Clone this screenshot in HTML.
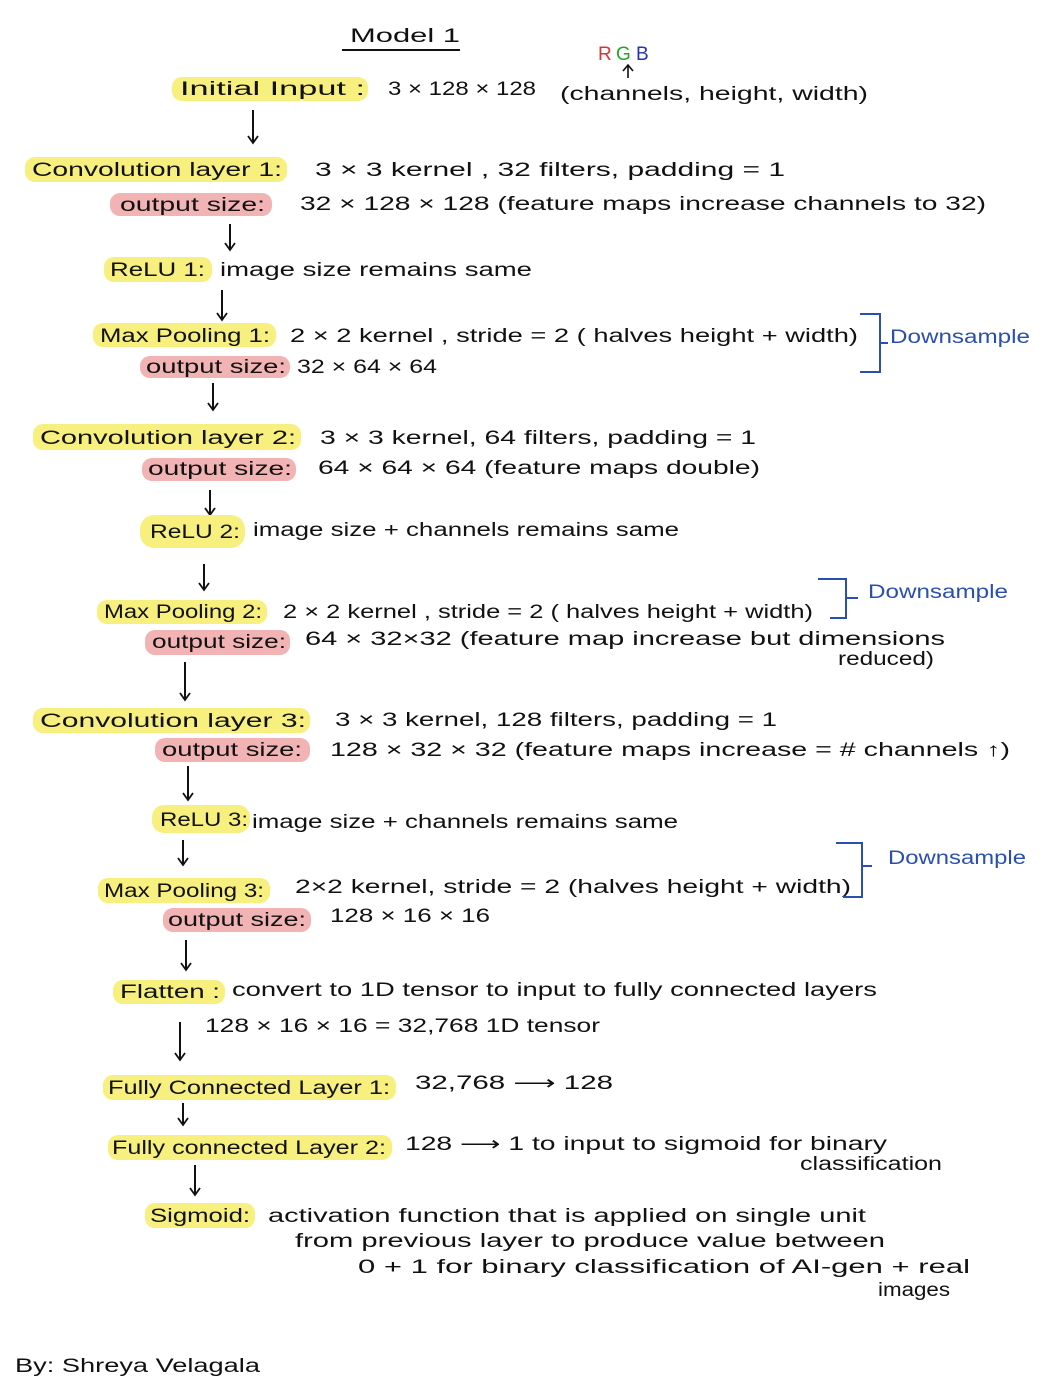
<!DOCTYPE html>
<html><head><meta charset="utf-8"><style>
html,body{margin:0;padding:0;background:#fff;}
svg{display:block;font-family:"Liberation Sans",sans-serif;}
text{font-size:19px;fill:#111;}
.y{fill:#f7f07e;}
.p{fill:#f1b3b3;}
.b{fill:#2a4fb0;}
.ar{stroke:#111;stroke-width:2;fill:none;}
.br{stroke:#2a4fb0;stroke-width:2;fill:none;}
</style></head><body>
<svg width="1053" height="1388" viewBox="0 0 1053 1388">
<defs><marker id="ah" markerWidth="12" markerHeight="12" refX="10" refY="6" orient="auto" markerUnits="userSpaceOnUse"><path d="M3,1 L10,6 L3,11" stroke="#111" stroke-width="1.8" fill="none"/></marker></defs>

<g>
<text x="350" y="42" textLength="110" lengthAdjust="spacingAndGlyphs">Model 1</text>
<line x1="342" y1="50" x2="460" y2="50" stroke="#111" stroke-width="2"/>
</g>
<g>
<text x="598" y="60" style="fill:#d33">R</text><text x="616" y="60" style="fill:#2a2">G</text><text x="636" y="60" style="fill:#23b">B</text>
<path d="M628,78 L628,66 M623,71 L628,65 L633,71" stroke="#111" stroke-width="1.6" fill="none"/>
</g>

<!-- Initial input -->
<rect class="y" x="172" y="77" width="196" height="24" rx="10"/>
<text x="180" y="95" textLength="185" lengthAdjust="spacingAndGlyphs">Initial Input :</text>
<text x="388" y="95" textLength="148" lengthAdjust="spacingAndGlyphs">3 × 128 × 128</text>
<text x="560" y="100" textLength="308" lengthAdjust="spacingAndGlyphs">(channels, height, width)</text>
<line class="ar" x1="253" y1="110" x2="253" y2="143" marker-end="url(#ah)"/>

<!-- Conv 1 -->
<rect class="y" x="25" y="157" width="262" height="25" rx="10"/>
<text x="32" y="176" textLength="250" lengthAdjust="spacingAndGlyphs">Convolution layer 1:</text>
<text x="315" y="176" textLength="470" lengthAdjust="spacingAndGlyphs">3 × 3 kernel , 32 filters, padding = 1</text>
<rect class="p" x="110" y="193" width="162" height="23" rx="10"/>
<text x="120" y="211" textLength="145" lengthAdjust="spacingAndGlyphs">output size:</text>
<text x="300" y="210" textLength="686" lengthAdjust="spacingAndGlyphs">32 × 128 × 128  (feature maps increase channels to 32)</text>
<line class="ar" x1="230" y1="224" x2="230" y2="250" marker-end="url(#ah)"/>

<!-- ReLU 1 -->
<rect class="y" x="104" y="257" width="108" height="25" rx="10"/>
<text x="110" y="276" textLength="95" lengthAdjust="spacingAndGlyphs">ReLU 1:</text>
<text x="220" y="276" textLength="312" lengthAdjust="spacingAndGlyphs">image size remains same</text>
<line class="ar" x1="222" y1="290" x2="222" y2="320" marker-end="url(#ah)"/>

<!-- Max pool 1 -->
<rect class="y" x="93" y="323" width="183" height="24" rx="10"/>
<text x="100" y="342" textLength="170" lengthAdjust="spacingAndGlyphs">Max Pooling 1:</text>
<text x="290" y="342" textLength="568" lengthAdjust="spacingAndGlyphs">2 × 2 kernel , stride = 2 ( halves height + width)</text>
<path class="br" d="M860,314 L880,314 L880,372 L860,372 M880,343 L888,343"/>
<text class="b" x="890" y="343" textLength="140" lengthAdjust="spacingAndGlyphs">Downsample</text>
<rect class="p" x="140" y="356" width="150" height="22" rx="10"/>
<text x="146" y="373" textLength="140" lengthAdjust="spacingAndGlyphs">output size:</text>
<text x="297" y="373" textLength="140" lengthAdjust="spacingAndGlyphs">32 × 64 × 64</text>
<line class="ar" x1="213" y1="383" x2="213" y2="410" marker-end="url(#ah)"/>

<!-- Conv 2 -->
<rect class="y" x="33" y="424" width="268" height="26" rx="10"/>
<text x="40" y="444" textLength="256" lengthAdjust="spacingAndGlyphs">Convolution layer 2:</text>
<text x="320" y="444" textLength="436" lengthAdjust="spacingAndGlyphs">3 × 3 kernel, 64 filters, padding = 1</text>
<rect class="p" x="142" y="458" width="154" height="23" rx="10"/>
<text x="148" y="475" textLength="144" lengthAdjust="spacingAndGlyphs">output size:</text>
<text x="318" y="474" textLength="442" lengthAdjust="spacingAndGlyphs">64 × 64 × 64  (feature maps double)</text>
<line class="ar" x1="210" y1="490" x2="210" y2="515" marker-end="url(#ah)"/>

<!-- ReLU 2 -->
<rect class="y" x="140" y="515" width="105" height="33" rx="14"/>
<text x="150" y="538" textLength="90" lengthAdjust="spacingAndGlyphs">ReLU 2:</text>
<text x="253" y="536" textLength="426" lengthAdjust="spacingAndGlyphs">image size + channels remains same</text>
<line class="ar" x1="204" y1="564" x2="204" y2="590" marker-end="url(#ah)"/>

<!-- Max pool 2 -->
<rect class="y" x="97" y="600" width="170" height="24" rx="10"/>
<text x="104" y="618" textLength="158" lengthAdjust="spacingAndGlyphs">Max Pooling 2:</text>
<text x="283" y="618" textLength="530" lengthAdjust="spacingAndGlyphs">2 × 2 kernel , stride = 2 ( halves height + width)</text>
<path class="br" d="M818,579 L846,579 L846,618 L830,618 M846,598 L858,598"/>
<text class="b" x="868" y="598" textLength="140" lengthAdjust="spacingAndGlyphs">Downsample</text>
<rect class="p" x="145" y="630" width="145" height="25" rx="10"/>
<text x="152" y="648" textLength="134" lengthAdjust="spacingAndGlyphs">output size:</text>
<text x="305" y="645" textLength="640" lengthAdjust="spacingAndGlyphs">64 × 32×32  (feature map increase but dimensions</text>
<text x="838" y="665" textLength="96" lengthAdjust="spacingAndGlyphs">reduced)</text>
<line class="ar" x1="185" y1="662" x2="185" y2="700" marker-end="url(#ah)"/>

<!-- Conv 3 -->
<rect class="y" x="33" y="708" width="277" height="25" rx="10"/>
<text x="40" y="727" textLength="266" lengthAdjust="spacingAndGlyphs">Convolution layer 3:</text>
<text x="335" y="726" textLength="442" lengthAdjust="spacingAndGlyphs">3 × 3 kernel, 128 filters, padding = 1</text>
<rect class="p" x="155" y="738" width="155" height="24" rx="10"/>
<text x="162" y="756" textLength="140" lengthAdjust="spacingAndGlyphs">output size:</text>
<text x="330" y="756" textLength="680" lengthAdjust="spacingAndGlyphs">128 × 32 × 32  (feature maps increase = # channels ↑)</text>
<line class="ar" x1="188" y1="766" x2="188" y2="800" marker-end="url(#ah)"/>

<!-- ReLU 3 -->
<rect class="y" x="152" y="805" width="98" height="28" rx="12"/>
<text x="160" y="826" textLength="88" lengthAdjust="spacingAndGlyphs">ReLU 3:</text>
<text x="252" y="828" textLength="426" lengthAdjust="spacingAndGlyphs">image size + channels remains same</text>
<line class="ar" x1="183" y1="840" x2="183" y2="865" marker-end="url(#ah)"/>

<!-- Max pool 3 -->
<rect class="y" x="98" y="878" width="172" height="25" rx="10"/>
<text x="104" y="897" textLength="160" lengthAdjust="spacingAndGlyphs">Max Pooling 3:</text>
<text x="295" y="893" textLength="556" lengthAdjust="spacingAndGlyphs">2×2 kernel, stride = 2  (halves height + width)</text>
<path class="br" d="M836,843 L862,843 L862,897 L843,897 M862,866 L872,866"/>
<text class="b" x="888" y="864" textLength="138" lengthAdjust="spacingAndGlyphs">Downsample</text>
<rect class="p" x="163" y="908" width="148" height="24" rx="10"/>
<text x="168" y="926" textLength="138" lengthAdjust="spacingAndGlyphs">output size:</text>
<text x="330" y="922" textLength="160" lengthAdjust="spacingAndGlyphs">128 × 16 × 16</text>
<line class="ar" x1="186" y1="940" x2="186" y2="970" marker-end="url(#ah)"/>

<!-- Flatten -->
<rect class="y" x="113" y="980" width="112" height="24" rx="10"/>
<text x="120" y="998" textLength="100" lengthAdjust="spacingAndGlyphs">Flatten :</text>
<text x="232" y="996" textLength="645" lengthAdjust="spacingAndGlyphs">convert to 1D tensor to input to fully connected layers</text>
<text x="205" y="1032" textLength="395" lengthAdjust="spacingAndGlyphs">128 × 16 × 16 = 32,768  1D tensor</text>
<line class="ar" x1="180" y1="1022" x2="180" y2="1060" marker-end="url(#ah)"/>

<!-- FC1 -->
<rect class="y" x="103" y="1075" width="293" height="25" rx="10"/>
<text x="108" y="1094" textLength="282" lengthAdjust="spacingAndGlyphs">Fully Connected Layer 1:</text>
<text x="415" y="1089" textLength="198" lengthAdjust="spacingAndGlyphs">32,768  ⟶  128</text>
<line class="ar" x1="183" y1="1103" x2="183" y2="1125" marker-end="url(#ah)"/>

<!-- FC2 -->
<rect class="y" x="108" y="1135" width="284" height="25" rx="10"/>
<text x="112" y="1154" textLength="274" lengthAdjust="spacingAndGlyphs">Fully connected Layer 2:</text>
<text x="405" y="1150" textLength="482" lengthAdjust="spacingAndGlyphs">128 ⟶  1 to input to sigmoid for binary</text>
<text x="800" y="1170" textLength="142" lengthAdjust="spacingAndGlyphs">classification</text>
<line class="ar" x1="195" y1="1165" x2="195" y2="1195" marker-end="url(#ah)"/>

<!-- Sigmoid -->
<rect class="y" x="145" y="1203" width="110" height="25" rx="10"/>
<text x="150" y="1222" textLength="100" lengthAdjust="spacingAndGlyphs">Sigmoid:</text>
<text x="268" y="1222" textLength="598" lengthAdjust="spacingAndGlyphs">activation function that is applied on single unit</text>
<text x="295" y="1247" textLength="590" lengthAdjust="spacingAndGlyphs">from previous layer to produce value between</text>
<text x="358" y="1273" textLength="612" lengthAdjust="spacingAndGlyphs">0 + 1 for binary classification of AI-gen + real</text>
<text x="878" y="1296" textLength="72" lengthAdjust="spacingAndGlyphs">images</text>

<text x="15" y="1372" textLength="245" lengthAdjust="spacingAndGlyphs">By: Shreya Velagala</text>
</svg>
</body></html>
